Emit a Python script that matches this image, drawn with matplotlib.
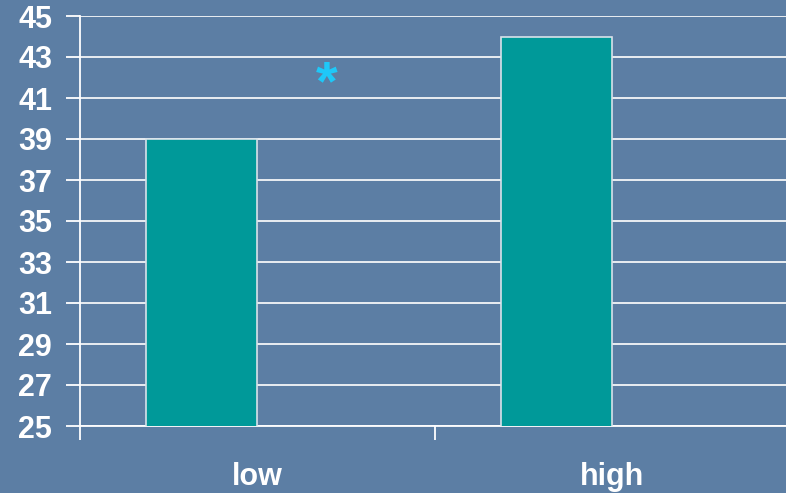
import numpy as np
import matplotlib
matplotlib.use('Agg')
import matplotlib.pyplot as plt

# categories and values
groups = ['low', 'high']
scores = [39, 44]
yticks = list(range(25, 46, 2))

bg = '#5c7ea4'
teal = '#009999'

plt.rcParams['font.family'] = ['Liberation Sans', 'DejaVu Sans']
plt.rcParams['font.weight'] = 'bold'

fig = plt.figure(figsize=(7.86, 4.93), dpi=100)
fig.patch.set_facecolor(bg)
ax = fig.add_axes([80/786, 1-426/493, 710/786, 410/493])
ax.set_facecolor(bg)

x = np.arange(len(groups))
ax.bar(x - 0.158, scores, width=0.313, bottom=0, color=teal,
       edgecolor='#d8e2ea', linewidth=1.2, zorder=3)

ax.set_ylim(25, 45)
ax.set_xlim(-0.5, 1.5)
ax.set_yticks(yticks)
ax.set_yticklabels([str(v) for v in yticks])
ax.grid(axis='y', color='#f4f6f8', linewidth=1.3, zorder=0)
ax.set_axisbelow(True)

# category labels centred in each slot, tick marks on the slot borders
ax.set_xticks([-0.5, 0.5, 1.5])
ax.set_xticklabels([])
ax.set_xticks(x, minor=True)
ax.set_xticklabels(groups, minor=True)
ax.tick_params(axis='x', which='minor', length=0, pad=26, labelsize=22, labelcolor='white')
ax.tick_params(axis='x', which='major', length=10, width=1.3, color='white')
ax.tick_params(axis='y', length=10, width=1.3, color='white', pad=10,
               labelsize=22, labelcolor='white')

for s in ['top', 'right']:
    ax.spines[s].set_visible(False)
for s in ['left', 'bottom']:
    ax.spines[s].set_color('white')
    ax.spines[s].set_linewidth(1.3)

ax.text(0.196, 41.6, '*', color='#1ec8f8', fontsize=40, fontweight='bold',
        ha='center', va='center', zorder=4)

fig.savefig('out.png', dpi=100, facecolor=bg)
